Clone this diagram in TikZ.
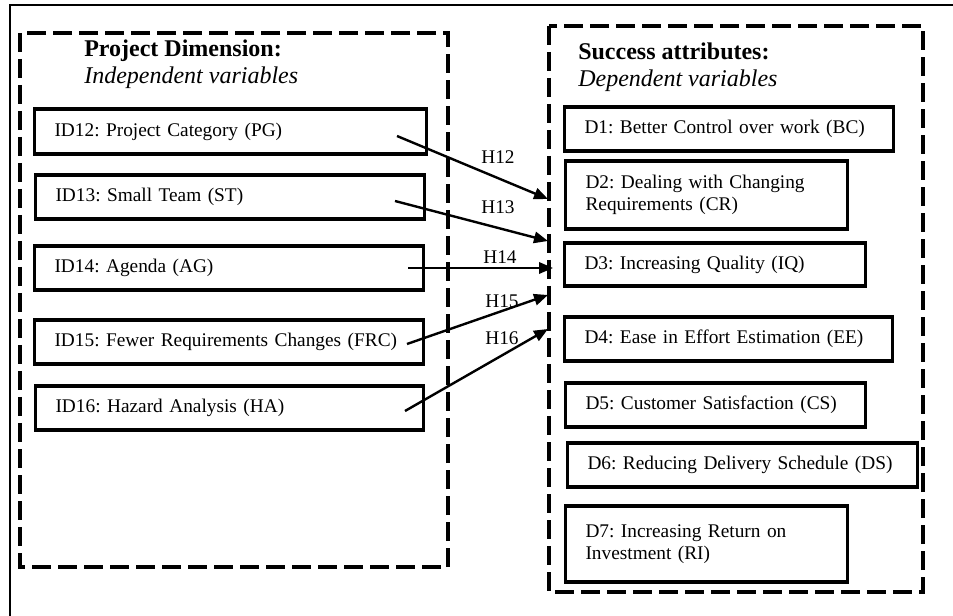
\documentclass[tikz,border=0pt]{standalone}
\usepackage{fontspec}
\setmainfont{Liberation Serif}
\usetikzlibrary{arrows.meta}
\frenchspacing
\begin{document}
\begin{tikzpicture}[x=0.75pt,y=-0.75pt,
  frame/.style={line width=2.2pt},
  dbox/.style={line width=2.4pt,dash pattern=on 14pt off 5.5pt},
  vbox/.style={draw,line width=2.3pt,inner xsep=15pt,inner ysep=0pt,align=left,anchor=west,font=\fontsize{14.5}{16.5}\selectfont\frenchspacing},
  ttl/.style={anchor=base west,inner sep=0pt,font=\fontsize{18}{21}\selectfont\bfseries},
  sub/.style={anchor=base west,inner sep=0pt,font=\fontsize{18}{21}\selectfont\itshape},
  hyp/.style={line width=1.8pt,-{Triangle[length=10.5pt,width=8.5pt]}},
  hlab/.style={inner sep=0pt,font=\fontsize{14.5}{17}\selectfont}]
\useasboundingbox (0,0) rectangle (953,616);
% outer frame (cropped)
\draw[frame] (10,616) -- (10,5) -- (953,5);
% group boxes
\draw[dbox] (20,33) rectangle (448,567);
\draw[dbox] (549,26) rectangle (923,592);
% titles
\node[ttl] (t1) at (84,57) {Project Dimension:};
\node[sub] (s1) at (84,84) {Independent variables};
\node[ttl] (t2) at (578,60) {Success attributes:};
\node[sub] (s2) at (578,87) {Dependent variables};
% left boxes
\node[vbox,text width=264pt,minimum height=33.75pt] (id12) at (33,131.5) {ID12: Project Category (PG)};
\node[vbox,text width=261.75pt,minimum height=33pt] (id13) at (34,197) {ID13: Small Team (ST)};
\node[vbox,text width=261.75pt,minimum height=33pt] (id14) at (33,268) {ID14: Agenda (AG)};
\node[vbox,text width=261.75pt,minimum height=33pt] (id15) at (33,342) {ID15: Fewer Requirements Changes (FRC)};
\node[vbox,text width=261pt,minimum height=33pt] (id16) at (34,408) {ID16: Hazard Analysis (HA)};
% right boxes
\node[vbox,text width=216.75pt,minimum height=33pt] (d1) at (563,129) {D1: Better Control over work (BC)};
\node[vbox,text width=181.5pt,minimum height=51pt] (d2) at (564,195) {D2: Dealing with Changing\\Requirements (CR)};
\node[vbox,text width=195.75pt,minimum height=32.25pt] (d3) at (563,264.5) {D3: Increasing Quality (IQ)};
\node[vbox,text width=216pt,minimum height=33pt] (d4) at (563,339) {D4: Ease in Effort Estimation (EE)};
\node[vbox,text width=195pt,minimum height=33pt] (d5) at (564,405) {D5: Customer Satisfaction (CS)};
\node[vbox,text width=232.5pt,minimum height=33pt] (d6) at (566,465) {D6: Reducing Delivery Schedule (DS)};
\node[vbox,text width=181.5pt,minimum height=57pt] (d7) at (564,544) {D7: Increasing Return on\\Investment (RI)};
% arrow end points
\coordinate (a12) at (397,136); \coordinate (b12) at (548,199);
\coordinate (a13) at (395,201); \coordinate (b13) at (548,241);
\coordinate (a14) at (408,268); \coordinate (b14) at (553,268);
\coordinate (a15) at (407,344); \coordinate (b15) at (548,295);
\coordinate (a16) at (405,411); \coordinate (b16) at (548,329);
\draw[hyp] (a12) -- (b12);
\draw[hyp] (a13) -- (b13);
\draw[hyp] (a14) -- (b14);
\draw[hyp] (a15) -- (b15);
\draw[hyp] (a16) -- (b16);
% labels
\node[hlab] (h12) at (498,157) {H12};
\node[hlab] (h13) at (498,207) {H13};
\node[hlab] (h14) at (500,257) {H14};
\node[hlab] (h15) at (502,301) {H15};
\node[hlab] (h16) at (502,338) {H16};
\end{tikzpicture}
\end{document}
